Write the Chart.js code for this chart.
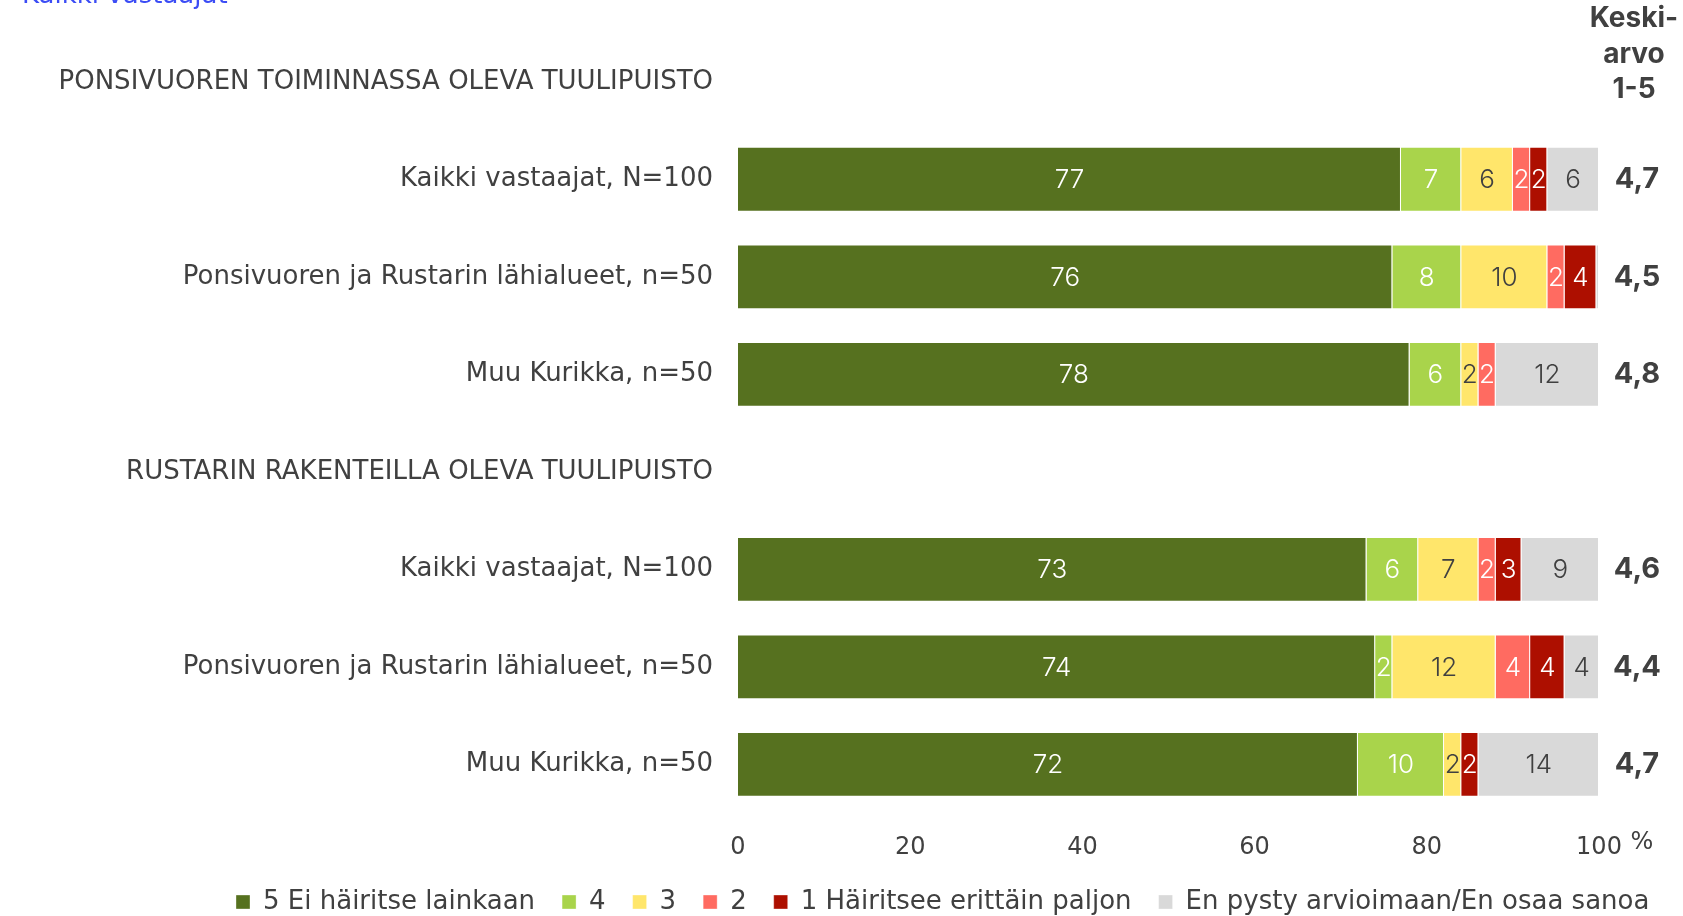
<!DOCTYPE html>
<html lang="fi">
<head>
<meta charset="utf-8">
<title>Tuulipuistojen häiritsevyys</title>
<script src="https://cdn.jsdelivr.net/npm/chart.js@4/dist/chart.umd.min.js"></script>
<style>
  html, body { margin: 0; padding: 0; background: #fff; }
  #wrap { position: relative; width: 1683px; height: 916px; }
</style>
</head>
<body>
<div id="wrap"><canvas id="chart"></canvas></div>
<script>
// rivit: otsikkorivit ilman dataa (null)
const categories = [
  'PONSIVUOREN TOIMINNASSA OLEVA TUULIPUISTO',
  'Kaikki vastaajat, N=100',
  'Ponsivuoren ja Rustarin lähialueet, n=50',
  'Muu Kurikka, n=50',
  'RUSTARIN RAKENTEILLA OLEVA TUULIPUISTO',
  'Kaikki vastaajat, N=100',
  'Ponsivuoren ja Rustarin lähialueet, n=50',
  'Muu Kurikka, n=50'
];
const seriesNames = ['5 Ei häiritse lainkaan', '4', '3', '2', '1 Häiritsee erittäin paljon', 'En pysty arvioimaan/En osaa sanoa'];
const s5 = [null, 77, 76, 78, null, 73, 74, 72];
const s4 = [null, 7, 8, 6, null, 6, 2, 10];
const s3 = [null, 6, 10, 2, null, 7, 12, 2];
const s2 = [null, 2, 2, 2, null, 2, 4, 0];
const s1 = [null, 2, 3.7, 0, null, 3, 4, 2];
const sEos = [null, 6, 0.3, 12, null, 9, 4, 14];
const means = ['', '4,7', '4,5', '4,8', '', '4,6', '4,4', '4,7'];
const xTicks = [0, 20, 40, 60, 80, 100];

const FONT = '"DejaVu Sans", Inter, sans-serif';
const NUMFONT = 'Inter, "DejaVu Sans", sans-serif';
const TEXT = '#404040';
const colors = ['#56711f', '#a9d44b', '#ffe66b', '#ff6b61', '#ad0f00', '#d9d9d9'];
const labelColors = ['#fff', '#fff', TEXT, '#fff', '#fff', TEXT];

const overlay = {
  id: 'overlay',
  beforeLayout(chart) {
    // legendin korkeus pienemmäksi, sijainti asetetaan afterLayoutissa
    const lg = chart.legend;
    if (lg && !lg._fitPatched) {
      const fit = lg.fit.bind(lg);
      lg.fit = function () { fit(); this.height = 34; };
      lg._fitPatched = true;
    }
  },
  afterLayout(chart) {
    const lg = chart.legend;
    lg.left = 236 - 27;
    lg.right = 1683;
    lg.top = 862;
    lg.bottom = 916;
  },
  afterDatasetsDraw(chart) {
    const ctx = chart.ctx;
    ctx.save();
    ctx.font = '300 26px ' + NUMFONT;
    ctx.textAlign = 'center';
    ctx.textBaseline = 'middle';
    chart.data.datasets.forEach((ds, i) => {
      chart.getDatasetMeta(i).data.forEach((bar, j) => {
        const v = ds.data[j];
        if (v == null || v < 1) return;
        ctx.fillStyle = labelColors[i];
        ctx.fillText(String(Math.round(v)), (bar.x + bar.base) / 2, bar.y + 1);
      });
    });
    ctx.restore();
  },
  afterDraw(chart) {
    const ctx = chart.ctx;
    const y = chart.scales.y;
    const x = chart.scales.x;
    ctx.save();
    ctx.fillStyle = TEXT;
    ctx.textAlign = 'center';
    ctx.textBaseline = 'middle';
    ctx.font = 'bold 29px ' + NUMFONT;
    means.forEach((m, j) => {
      if (m) ctx.fillText(m, 1637, y.getPixelForValue(j));
    });
    ctx.font = 'bold 28px ' + NUMFONT;
    ctx.fillText('Keski-', 1634, 19);
    ctx.fillText('arvo', 1634, 55);
    ctx.fillText('1-5', 1634, 90);

    ctx.font = '24px ' + FONT;
    ctx.fillText('%', x.getPixelForValue(100) + 43, 843);

    ctx.fillStyle = '#3b4cf5';
    ctx.textAlign = 'left';
    ctx.textBaseline = 'alphabetic';
    ctx.font = '26px ' + FONT;
    ctx.fillText('Kaikki vastaajat', 22, 3);
    ctx.restore();
  }
};

const seriesData = [s5, s4, s3, s2, s1, sEos];

new Chart(document.getElementById('chart').getContext('2d'), {
  type: 'bar',
  data: {
    labels: categories,
    datasets: seriesData.map((d, i) => ({
      label: seriesNames[i],
      data: d,
      backgroundColor: colors[i],
      borderColor: 'rgba(255,255,255,0.35)',
      borderWidth: 1,
      categoryPercentage: 1,
      barPercentage: 0.665,
    })),
  },
  options: {
    indexAxis: 'y',
    responsive: true,
    maintainAspectRatio: false,
    animation: false,
    layout: { padding: { left: 0, right: 84, top: 33, bottom: 0 } },
    plugins: {
      legend: {
        position: 'bottom',
        align: 'start',
        labels: {
          boxWidth: 14,
          boxHeight: 14,
          padding: 27,
          color: TEXT,
          font: { family: FONT, size: 26 },
        },
      },
      tooltip: { enabled: false },
    },
    scales: {
      x: {
        stacked: true,
        min: 0,
        max: 100,
        grid: { display: false, drawTicks: false },
        border: { display: false },
        afterBuildTicks(scale) { scale.ticks = xTicks.map(v => ({ value: v })); },
        ticks: { color: TEXT, font: { family: FONT, size: 24 }, padding: 20 },
      },
      y: {
        stacked: true,
        grid: { display: false, drawTicks: false },
        border: { display: false },
        afterFit(scale) { scale.width = 738; scale.paddingTop = 0; },
        ticks: { color: TEXT, font: { family: FONT, size: 26 }, padding: 25, autoSkip: false },
      },
    },
  },
  plugins: [overlay],
});
</script>
</body>
</html>
